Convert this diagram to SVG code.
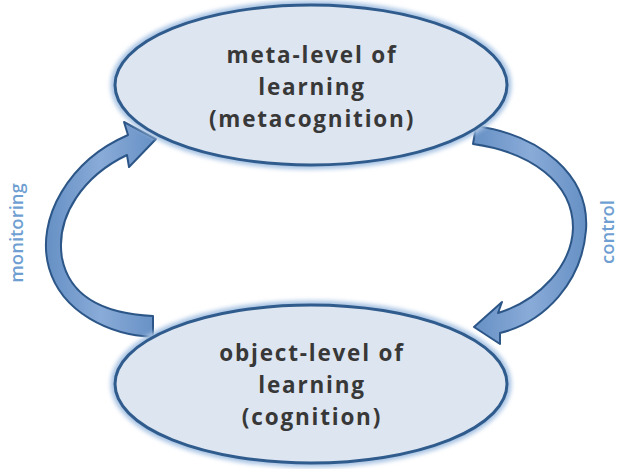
<svg xmlns="http://www.w3.org/2000/svg" width="620" height="469" viewBox="0 0 620 469">
  <defs>
    <linearGradient id="arrowFill" x1="0" y1="0" x2="1" y2="0">
      <stop offset="0" stop-color="#6690c4"/>
      <stop offset="0.5" stop-color="#89abd8"/>
      <stop offset="1" stop-color="#6690c4"/>
    </linearGradient>
    <filter id="glow" x="-10%" y="-10%" width="120%" height="120%">
      <feGaussianBlur stdDeviation="2"/>
    </filter>
  </defs>
  <style>
    .halo { fill: none; stroke: #a9c4e4; stroke-width: 9; }
    .ell { fill: #dde5f0; stroke: #2f5b8d; stroke-width: 3; }
    .lbl { font-family: "Open Sans", "Liberation Sans", sans-serif; font-weight: 700; font-size: 22.5px; letter-spacing: 1.8px; fill: #383838; text-anchor: middle; }
    .side { font-family: "Open Sans", "Liberation Sans", sans-serif; font-weight: 600; font-size: 18.5px; fill: #6f9fd2; text-anchor: middle; }
    .arrow { fill: url(#arrowFill); stroke: #2c5687; stroke-width: 2; stroke-linejoin: round; }
  </style>

  <rect width="620" height="469" fill="#ffffff"/>

  <!-- curved connectors -->
  <g id="connectors">
    <!-- monitoring: object level up to meta level -->
    <path class="arrow" d="M153,316 C110,314 70,300 62,258 C55,215 85,175 127,155 L129,167 L156,139 L124,122 L128,135 C70,160 35,218 49,268 C62,313 110,335 153,337 Z"/>
    <!-- control: meta level down to object level -->
    <path class="arrow" d="M476,126 C540,135 590,175 586,230 C582,282 545,322 500,333 L500,344 L474,327 L502,302 L498,313 C540,300 572,265 573,228 C573,182 530,152 473,144 Z"/>
  </g>

  <g id="meta-level">
    <ellipse class="halo" cx="311" cy="85" rx="196" ry="80" filter="url(#glow)"/>
    <ellipse class="ell" cx="311" cy="85" rx="196" ry="80"/>
    <text class="lbl" x="312" y="63">meta-level of</text>
    <text class="lbl" x="312" y="95">learning</text>
    <text class="lbl" x="312" y="127">(metacognition)</text>
  </g>

  <g id="object-level">
    <ellipse class="halo" cx="311" cy="384" rx="196" ry="79" filter="url(#glow)"/>
    <ellipse class="ell" cx="311" cy="384" rx="196" ry="79"/>
    <text class="lbl" x="312" y="361">object-level of</text>
    <text class="lbl" x="312" y="393">learning</text>
    <text class="lbl" x="312" y="425">(cognition)</text>
  </g>

  <g id="monitoring-label">
    <text class="side" transform="translate(23,233) rotate(-90)">monitoring</text>
  </g>
  <g id="control-label">
    <text class="side" transform="translate(614,232) rotate(-90)">control</text>
  </g>
</svg>
